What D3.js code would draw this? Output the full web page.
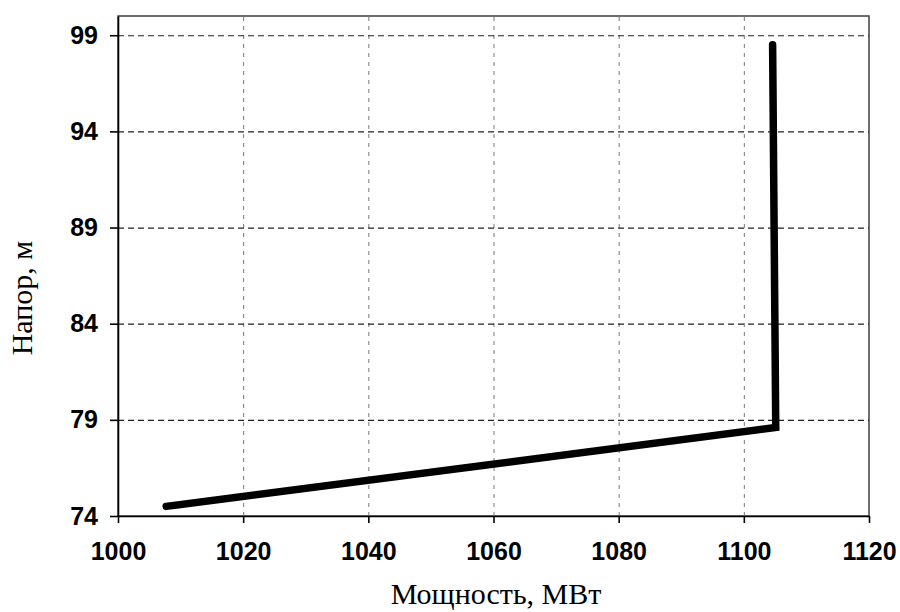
<!DOCTYPE html>
<html lang="ru">
<head>
  <meta charset="utf-8">
  <title>Напор - Мощность</title>
  <script src="https://d3js.org/d3.v7.min.js"></script>
  <style>
    body { margin: 0; background: #ffffff; }
    .tick text { font-family: "Liberation Sans", Arial, sans-serif; font-weight: bold; font-size: 25px; fill: #000; }
    .axis path, .axis line { stroke: #000; stroke-width: 1.6; }
    .hgrid line { stroke: #222; stroke-width: 1.2; stroke-dasharray: 6,4; }
    .vgrid line { stroke: #777; stroke-width: 1; stroke-dasharray: 4,5; }
    .grid path { stroke: none; }
    .title { font-family: "Liberation Serif", "Times New Roman", serif; font-size: 30px; fill: #000; }
    path.curve { fill: none; stroke: #000; stroke-width: 7.5; stroke-linejoin: miter; stroke-linecap: round; }
  </style>
</head>
<body>
  <div id="container"></div>
  <script>
    // data
    var power = [1007.7, 1105.1, 1104.6];   // МВт
    var head = [74.5, 78.6, 98.5];          // м
    var xTicks = [1000, 1020, 1040, 1060, 1080, 1100, 1120];
    var yTicks = [74, 79, 84, 89, 94, 99];

    var W = 900, H = 612;
    var mLeft = 118, mTop = 16, mRight = 869, mBottom = 516;

    var svg = d3.select("#container").append("svg")
      .attr("width", W)
      .attr("height", H);

    var xScale = d3.scaleLinear().domain([1000, 1120]).range([mLeft, mRight]);
    var yScale = d3.scaleLinear().domain([74, 100]).range([mBottom, mTop]);

    // frame (top/right)
    svg.append("rect")
      .attr("x", mLeft).attr("y", mTop)
      .attr("width", mRight - mLeft).attr("height", mBottom - mTop)
      .attr("fill", "none")
      .attr("stroke", "#333")
      .attr("stroke-width", 1.4);

    // grids
    svg.append("g")
      .attr("class", "grid vgrid")
      .attr("transform", "translate(0," + mBottom + ")")
      .call(d3.axisBottom(xScale).tickValues(xTicks.slice(1, -1)).tickSize(-(mBottom - mTop)).tickFormat(""));

    svg.append("g")
      .attr("class", "grid hgrid")
      .attr("transform", "translate(" + mLeft + ",0)")
      .call(d3.axisLeft(yScale).tickValues(yTicks.slice(1)).tickSize(-(mRight - mLeft)).tickFormat(""));

    // axes
    svg.append("g")
      .attr("class", "axis")
      .attr("transform", "translate(0," + mBottom + ")")
      .call(d3.axisBottom(xScale).tickValues(xTicks).tickFormat(d3.format("d"))
        .tickSize(7).tickPadding(19).tickSizeOuter(0));

    svg.append("g")
      .attr("class", "axis")
      .attr("transform", "translate(" + mLeft + ",0)")
      .call(d3.axisLeft(yScale).tickValues(yTicks).tickFormat(d3.format("d"))
        .tickSize(8).tickPadding(12).tickSizeOuter(0));

    // line
    var pts = power.map(function (p, i) { return [p, head[i]]; });
    var line = d3.line()
      .x(function (d) { return xScale(d[0]); })
      .y(function (d) { return yScale(d[1]); });

    svg.append("path")
      .attr("class", "curve")
      .attr("d", line(pts));

    // titles
    svg.append("text")
      .attr("class", "title")
      .attr("x", 496)
      .attr("y", 604)
      .attr("text-anchor", "middle")
      .text("Мощность, МВт");

    svg.append("text")
      .attr("class", "title")
      .attr("transform", "translate(32,298) rotate(-90)")
      .attr("text-anchor", "middle")
      .text("Напор, м");
  </script>
</body>
</html>
